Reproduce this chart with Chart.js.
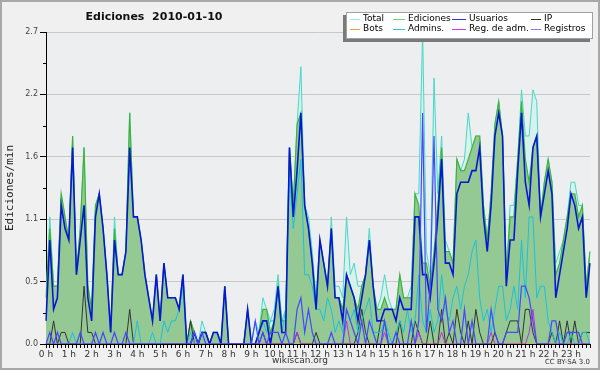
<!DOCTYPE html>
<html>
<head>
<meta charset="utf-8">
<script src="https://cdn.jsdelivr.net/npm/chart.js@4.4.1/dist/chart.umd.min.js"></script>
<style>
  html, body { margin: 0; padding: 0; background: #f0f0f0; }
  #wrap { width: 600px; height: 370px; }
</style>
</head>
<body>
<div id="wrap"><canvas id="grafico" width="600" height="370"></canvas></div>
<script>
// --- datos (ediciones por minuto, intervalos de 10 min) ---
const titulo = 'Ediciones  2010-01-10';
const etiquetaY = 'Ediciones/min';
const horas = ['0 h','1 h','2 h','3 h','4 h','5 h','6 h','7 h','8 h','9 h','10 h','11 h',
               '12 h','13 h','14 h','15 h','16 h','17 h','18 h','19 h','20 h','21 h','22 h','23 h'];
const minutos = Array.from({ length: 144 }, (_, i) => i * 10);

const total = [
  0.4,1.1,0.5,0.5,1.3,1.1,0.9,1.8,0.6,1.0,1.7,0.5,
  0.3,1.2,1.3,1.0,0.6,0.1,1.1,0.6,0.6,0.8,2.0,1.1,
  1.1,0.9,0.6,0.4,0.2,0.6,0.2,0.7,0.4,0.4,0.4,0.3,
  0.6,0,0.2,0.1,0,0.2,0.1,0,0.1,0.1,0,0.5,
  0,0,0,0,0,0.3,0,0.2,0.1,0.4,0.3,0.2,
  0.3,0.6,0.2,0.3,1.7,1.2,1.9,2.4,1.2,1.1,0.8,0.4,
  0.9,0.7,0.5,1.1,0.5,0.5,0.4,1.1,0.6,0.7,0.5,0.5,
  0.6,1.0,0.5,0.3,0.4,0.6,0.4,0.3,0.3,0.6,0.4,0.4,
  0.5,1.3,1.3,2.7,0.8,0.6,2.3,1.3,1.8,0.9,0.8,0.7,
  1.6,1.5,1.6,2.0,1.7,1.8,1.8,1.2,0.9,1.3,1.9,2.1,
  1.8,0.6,1.2,1.2,1.6,2.2,1.8,1.8,2.2,2.1,1.1,1.4,
  1.6,1.4,0.7,0.8,0.9,1.1,1.4,1.4,1.2,1.2,0.5,0.8
];
const ediciones = [
  0.4,1.0,0.5,0.5,1.3,1.1,0.9,1.8,0.6,1.0,1.7,0.5,
  0.3,1.2,1.3,1.0,0.6,0.1,1.0,0.6,0.6,0.8,2.0,1.1,
  1.1,0.9,0.6,0.4,0.2,0.6,0.2,0.7,0.4,0.4,0.4,0.3,
  0.6,0,0.2,0.1,0,0.1,0.1,0,0.1,0.1,0,0.5,
  0,0,0,0,0,0.3,0,0,0.1,0.3,0.3,0.1,
  0.2,0.5,0.2,0.2,1.7,1.2,1.9,2.0,1.2,1.0,0.7,0.3,
  0.9,0.7,0.5,1.0,0.4,0.4,0.3,0.6,0.5,0.4,0.3,0.5,
  0.6,0.9,0.5,0.3,0.3,0.4,0.3,0.3,0.3,0.6,0.4,0.4,
  0.4,1.3,1.2,0.7,0.7,0.5,0.8,1.2,1.7,0.8,0.8,0.7,
  1.6,1.5,1.5,1.6,1.7,1.8,1.8,1.2,0.9,1.3,1.9,2.1,
  1.8,0.6,1.1,1.1,1.6,2.1,1.6,1.4,1.7,1.8,1.1,1.4,
  1.6,1.4,0.6,0.7,0.9,1.1,1.3,1.3,1.1,1.2,0.5,0.8
];
const usuarios = [
  0.2,0.9,0.3,0.4,1.2,1.0,0.9,1.7,0.6,0.9,1.2,0.4,
  0.2,1.1,1.3,1.0,0.6,0.1,0.9,0.6,0.6,0.8,1.7,1.1,
  1.1,0.9,0.6,0.4,0.2,0.6,0.2,0.7,0.4,0.4,0.4,0.3,
  0.6,0,0,0.1,0,0.1,0.1,0,0.1,0.1,0,0.5,
  0,0,0,0,0,0.3,0,0,0.1,0.2,0.2,0,
  0.2,0.5,0.1,0.1,1.7,1.1,1.5,2.0,1.2,1.0,0.7,0.3,
  0.9,0.7,0.5,1.0,0.4,0.4,0.2,0.6,0.5,0.4,0.2,0.4,
  0.6,0.9,0.5,0.2,0.2,0.3,0.3,0.3,0.2,0.4,0.3,0.3,
  0.3,1.1,1.1,0.6,0.6,0.4,0.7,1.1,1.6,0.7,0.7,0.6,
  1.3,1.4,1.4,1.4,1.5,1.5,1.7,1.1,0.8,1.2,1.8,2.0,
  1.8,0.5,0.9,0.9,1.5,2.0,1.4,1.2,1.7,1.8,1.1,1.3,
  1.5,1.3,0.4,0.6,0.8,1.0,1.3,1.2,1.0,1.1,0.4,0.7
];
const ip = [
  0,0,0.2,0,0.1,0.1,0,0,0,0,0.5,0.1,
  0.1,0,0,0,0,0,0,0,0,0,0.3,0,
  0,0,0,0,0,0,0,0,0,0,0,0,
  0,0,0.2,0,0,0.1,0.1,0,0,0,0,0,
  0,0,0,0,0,0,0,0,0,0.1,0,0,
  0,0,0,0,0,0,0.1,0,0,0,0,0.1,
  0,0,0,0,0,0,0,0,0,0,0.1,0.3,
  0.1,0,0,0,0.2,0.2,0,0,0,0.2,0,0,
  0,0.2,0.1,0,0,0.2,0,0,0.3,0,0.1,0,
  0.3,0.1,0,0.2,0,0.3,0.1,0,0,0,0.1,0,
  0,0.1,0.2,0.2,0.2,0,0.3,0.3,0.1,0,0,0,
  0,0.1,0,0.2,0,0.2,0,0.2,0,0.1,0.1,0.1
];
const bots = [
  0,0,0,0,0,0,0,0,0,0,0,0, 0,0,0,0,0,0,0,0,0,0,0,0,
  0,0,0,0,0,0,0,0,0,0,0,0, 0,0,0,0,0,0,0,0,0,0,0,0,
  0,0,0,0,0,0,0,0,0,0,0,0, 0,0,0,0,0,0,0,0,0,0,0,0,
  0,0,0,0,0,0,0,0,0,0,0,0, 0,0,0,0,0,0,0,0,0,0,0,0,
  0,0,0,0,0,0,0,0,0,0,0,0, 0,0,0,0,0,0,0,0,0,0,0,0,
  0,0,0,0,0,0,0,0,0,0,0,0, 0,0,0,0,0,0,0,0,0,0,0,0
];
const admins = [
  0,0,0,0,0,0,0,0.1,0,0,0,0,
  0,0,0,0,0,0,0,0,0,0,0,0,
  0.2,0,0,0,0.1,0,0,0.2,0.1,0.2,0.2,0.3,
  0.5,0,0.1,0,0,0,0,0,0,0,0,0,
  0,0,0,0,0,0,0,0,0.1,0.2,0.1,0.2,
  0.2,0.5,0.1,0.3,1.5,1.0,1.3,1.6,0.6,0.6,0.5,0.3,
  0.3,0.2,0.4,0.3,0.1,0.2,0.1,0.3,0.2,0.3,0.1,0.2,
  0.3,0.4,0.1,0.1,0.1,0.2,0.1,0,0.1,0.2,0.1,0.3,
  0.1,0.2,0.6,0.2,0.1,0.3,0.1,0.2,0.6,0.3,0.2,0.4,
  0.5,0.3,0.5,0.6,0.8,0.9,0.4,0.2,0.3,0.1,0.3,0.5,
  0.5,0.2,0.3,0.5,0.3,0.9,0.4,1.1,1.1,0.4,0.5,0.5,
  0.2,0.1,0,0.1,0,0,0.1,0,0,0.1,0.1,0
];
const regAdm = [
  0,0,0,0,0,0,0,0,0,0,0,0, 0,0,0,0,0,0,0,0,0,0,0,0,
  0,0,0,0,0,0,0,0,0,0,0,0, 0,0,0,0,0,0,0,0,0,0,0,0,
  0,0,0,0,0,0,0,0,0,0,0,0,
  0,0,0,0,0,0,0.1,0,0,0,0,0,
  0,0,0,0,0,0,0,0.2,0,0,0,0,
  0,0,0,0,0,0.1,0,0,0,0,0,0,
  0,0,0.1,0,0,0,0,0,0.1,0,0,0,
  0,0,0,0,0,0,0,0,0,0.1,0,0,
  0,0,0,0,0,0,0,0.1,0.3,0,0,0,
  0,0,0,0,0,0,0,0,0,0,0,0
];
const registros = [
  0,0.1,0,0.1,0,0,0,0,0,0.1,0,0,
  0,0.1,0,0.1,0,0,0.1,0,0,0.1,0,0,
  0,0,0,0,0,0,0,0,0,0,0,0,
  0,0,0,0.1,0,0.1,0,0,0,0,0,0,
  0,0,0,0,0,0,0,0.2,0,0.1,0,0.1,
  0.1,0.1,0,0.1,0,0,0.3,0.4,0.1,0.3,0.1,0,
  0,0,0,0.1,0,0,0,0.3,0.2,0.1,0,0.2,
  0,0.2,0.1,0,0,0.2,0,0,0.1,0,0,0,
  0.2,0,0.2,2.0,0.1,0.5,1.8,0.3,0.2,0.4,0.1,0.2,
  0,0,0.3,0,0.2,0,0,0,0,0.3,0.1,0,
  0,0.1,0.1,0.1,0.1,0.5,0.5,0.4,0.2,0,0,0,
  0,0.2,0.2,0,0,0.1,0.1,0.1,0.1,0,0,0
];

// leyenda: nombre y color de la muestra, en dos filas de cuatro
const nombresSeries = ['Total', 'Ediciones', 'Usuarios', 'IP', 'Bots', 'Admins.', 'Reg. de adm.', 'Registros'];
const coloresLeyenda = ['#a8e6de', '#7ccc7c', '#3434e0', '#303030', '#f0a030', '#30c4dc', '#d040e0', '#7a7af2'];

// --- dibujo ---
const decoracion = {
    id: 'decoracion',
    beforeDraw(chart) {
        const ctx = chart.ctx;
        const a = chart.chartArea;
        ctx.save();
        ctx.fillStyle = '#f0f0f0';
        ctx.fillRect(0, 0, chart.width, chart.height);
        ctx.strokeStyle = '#a8a8a8';
        ctx.lineWidth = 2;
        ctx.strokeRect(1, 1, chart.width - 2, chart.height - 2);
        ctx.fillStyle = '#edeef0';
        ctx.fillRect(a.left, a.top, a.right - a.left, a.bottom - a.top);
        ctx.restore();
    },
    afterDraw(chart) {
        const ctx = chart.ctx;
        const a = chart.chartArea;
        const y = chart.scales.y;
        ctx.save();

        // marcas menores del eje Y
        ctx.strokeStyle = '#000';
        ctx.lineWidth = 1;
        y.ticks.forEach((t, i) => {
            if (i === 0) return;
            const py = Math.round(y.getPixelForValue((t.value + y.ticks[i - 1].value) / 2)) + 0.5;
            ctx.beginPath();
            ctx.moveTo(a.left - 3, py);
            ctx.lineTo(a.left, py);
            ctx.stroke();
        });

        // título
        ctx.fillStyle = '#111';
        ctx.font = 'bold 11px "DejaVu Sans"';
        ctx.textAlign = 'center';
        ctx.textBaseline = 'middle';
        ctx.fillText(titulo, 154, 17);

        // título del eje Y
        ctx.save();
        ctx.translate(10, (a.top + a.bottom) / 2);
        ctx.rotate(-Math.PI / 2);
        ctx.font = '11px "DejaVu Sans Mono"';
        ctx.fillStyle = '#222';
        ctx.fillText(etiquetaY, 0, 0);
        ctx.restore();

        // pie
        ctx.font = '9px "DejaVu Sans"';
        ctx.fillStyle = '#333';
        ctx.fillText('wikiscan.org', 300, 361);
        ctx.font = '7px "DejaVu Sans"';
        ctx.textAlign = 'right';
        ctx.fillText('CC BY-SA 3.0', 590, 362);

        // leyenda
        const bx = 346, by = 12, bw = 247, bh = 27;
        ctx.fillStyle = '#7a7a7a';
        ctx.fillRect(bx - 3, by + 3, bw, bh);
        ctx.fillStyle = '#fff';
        ctx.fillRect(bx, by, bw, bh);
        ctx.strokeStyle = '#a0a0a0';
        ctx.strokeRect(bx + 0.5, by + 0.5, bw - 1, bh - 1);
        const colX = [350, 393, 452, 531];
        const lineW = [10, 12, 14, 10];
        const filaY = [19.5, 29.5];
        ctx.font = '9px "DejaVu Sans"';
        ctx.textAlign = 'left';
        ctx.textBaseline = 'middle';
        nombresSeries.forEach((nombre, i) => {
            const c = i % 4, f = Math.floor(i / 4);
            ctx.strokeStyle = coloresLeyenda[i];
            ctx.lineWidth = 1;
            ctx.beginPath();
            ctx.moveTo(colX[c], filaY[f]);
            ctx.lineTo(colX[c] + lineW[c], filaY[f]);
            ctx.stroke();
            ctx.fillStyle = '#000';
            ctx.fillText(nombre, colX[c] + lineW[c] + 3, filaY[f] - 0.5);
        });
        ctx.restore();
    }
};

function serie(label, data, color, width, order, fillColor) {
    return {
        label: label,
        data: data,
        borderColor: color,
        borderWidth: width,
        backgroundColor: fillColor || color,
        fill: fillColor ? 'origin' : false,
        pointRadius: 0,
        tension: 0,
        order: order
    };
}

new Chart(document.getElementById('grafico'), {
    type: 'line',
    data: {
        labels: minutos,
        datasets: [
            serie('Total', total, '#44d8c8', 1, 8, '#d9f1ec'),
            serie('Ediciones', ediciones, '#3cb43c', 1.2, 7, '#94c994'),
            serie('Usuarios', usuarios, '#0818d2', 1.6, 3),
            serie('IP', ip, '#333333', 1, 5),
            serie('Bots', bots, '#f0a030', 1, 6),
            serie('Admins.', admins, '#18c2dc', 1, 4),
            serie('Reg. de adm.', regAdm, '#c030d8', 1, 2),
            serie('Registros', registros, '#4646ff', 1.2, 1)
        ]
    },
    options: {
        responsive: false,
        animation: false,
        devicePixelRatio: 1,
        layout: { padding: { top: 32, right: 10, left: 0, bottom: 0 } },
        plugins: {
            legend: { display: false },
            tooltip: { enabled: false }
        },
        scales: {
            x: {
                type: 'category',
                afterFit(scale) { scale.height = 26; },
                grid: { drawOnChartArea: false, drawTicks: true, tickLength: 4, tickColor: '#000' },
                border: { display: true, color: '#000', width: 1 },
                ticks: {
                    autoSkip: false,
                    maxRotation: 0,
                    minRotation: 0,
                    padding: 1,
                    color: '#333',
                    font: { family: 'DejaVu Sans', size: 9 },
                    callback: (v, i) => (i % 6 === 0 ? horas[i / 6] : '')
                }
            },
            y: {
                min: 0,
                max: 2.7,
                afterFit(scale) { scale.width = 46; },
                grid: { color: '#c8c8c8', drawTicks: true, tickLength: 6, tickColor: '#000' },
                border: { display: true, color: '#000', width: 1 },
                ticks: {
                    stepSize: 0.54,
                    padding: 2,
                    color: '#444',
                    font: { family: 'DejaVu Sans', size: 8 },
                    callback: v => v.toFixed(1)
                }
            }
        }
    },
    plugins: [decoracion]
});
</script>
</body>
</html>
